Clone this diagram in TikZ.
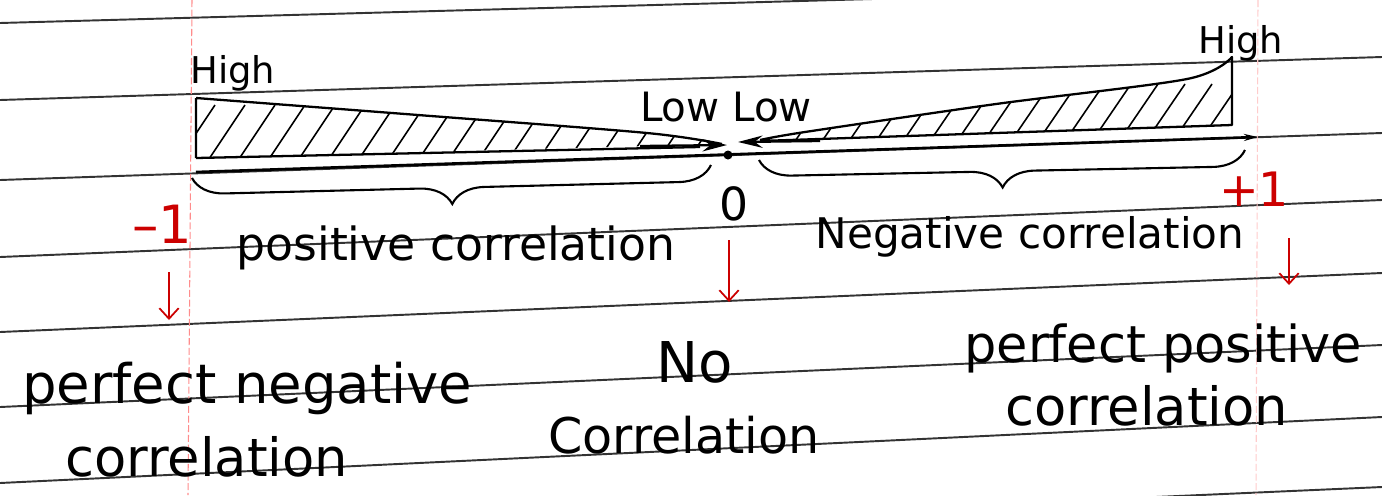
\documentclass[tikz,border=0pt]{standalone}
\usepackage{fontspec}
\setmainfont{DejaVu Sans}
\usetikzlibrary{arrows.meta, decorations.pathreplacing, calc}

\begin{document}
\begin{tikzpicture}[
    x=0.02cm, y=-0.02cm,
    ruled/.style={black!80, line width=1.1pt},
    margin/.style={red!45, line width=0.6pt, dash pattern=on 4pt off 1.5pt},
    wedge/.style={line width=1.3pt, line join=round},
    hatch/.style={line width=0.9pt},
    brace/.style={decorate, decoration={brace, mirror, amplitude=0.65cm}, line width=1.2pt},
    redarrow/.style={-{Straight Barb[length=6pt, width=11pt]}, red!80!black, line width=1pt},
    hand/.style={font=\fontsize{#1}{#1}\selectfont, inner sep=0pt},
    num/.style={font=\fontsize{#1}{#1}\selectfont, text=red!80!black, inner sep=0pt}
]
    % paper and its ruling
    \clip (0,0) rectangle (1382,495);
    \fill[white] (0,0) rectangle (1382,495);
    \foreach \l/\r in {23/-15, 100/57, 180/133, 257/200, 332/273, 407/345, 483/417, 548/487}
        \draw[ruled] (0,\l) -- (1382,\r);
    \draw[margin] (192,0) -- (188,495);
    \draw[margin, red!20] (1258,0) -- (1256,495);

    % left wedge (high at -1, low at 0)
    \begin{scope}
        \clip plot[smooth] coordinates {(196,98) (418,115) (647,133) (722,144)} -- (196,158) -- cycle;
        \foreach \x in {175,205,...,735}
            \draw[hatch] (\x,165) -- ++(40,-60);
    \end{scope}
    \draw[wedge] (196,158) -- (196,98) plot[smooth] coordinates {(196,98) (418,115) (647,133) (722,144)};
    \draw[wedge] (196,158) -- (700,147);
    \draw[wedge, -{Stealth[length=14pt, width=7pt]}] (640,146) -- (727,145);

    % right wedge (low at 0, high at +1)
    \begin{scope}
        \clip plot[smooth] coordinates {(742,142) (805,132) (996,104) (1187,79) (1232,57)} -- (1232,125) -- cycle;
        \foreach \x in {735,762,...,1240}
            \draw[hatch] (\x,150) -- ++(45,-66);
    \end{scope}
    \draw[wedge] plot[smooth] coordinates {(760,140) (805,132) (996,104) (1187,79) (1232,57)} -- (1232,125) -- (760,141);
    \draw[wedge, -{Stealth[length=14pt, width=7pt]}] (820,141) -- (738,142);

    % axis
    \coordinate (start) at (196,172);
    \coordinate (finish) at (1258,137);
    \coordinate (zero) at (728,155);
    \draw[line width=1.5pt, -{Stealth[length=8pt, width=4pt]}] (start) -- (finish);
    \fill (zero) circle (4.5);

    % braces
    \draw[brace] (192,178) -- (711,165);
    \draw[brace] (759,160) -- (1245,150);

    % labels
    \node[hand=21, anchor=base west] (highL) at (190,83) {High};
    \node[hand=21, anchor=base west] (highR) at (1198,53) {High};
    \node[hand=23, anchor=base] (low) at (726,121) {Low Low};
    \node[num=30] (m1) at (162,224) {--1};
    \node[num=26, text=black] (zerolab) at (734,204) {0};
    \node[num=27] (p1) at (1254,189) {+1};
    \node[hand=26, anchor=base] (poscorr) at (456,260) {positive correlation};
    \node[hand=24, anchor=base] (negcorr) at (1030,248) {Negative correlation};
    \node[hand=31, anchor=base west] (pneg) at (22,403) {perfect negative};
    \node[hand=30, anchor=base west] (pnegb) at (65,476) {correlation};
    \node[hand=32, anchor=base] (nocorr) at (695,382) {No};
    \node[hand=28, anchor=base] (nocorrb) at (684,453) {Correlation};
    \node[hand=29, anchor=base west] (ppos) at (964,362) {perfect positive};
    \node[hand=30, anchor=base west] (pposb) at (1005,425) {correlation};

    % red arrows
    \coordinate (a1) at (169,272);  \coordinate (b1) at (169,320);
    \coordinate (a2) at (729,240);  \coordinate (b2) at (729,302);
    \coordinate (a3) at (1289,238); \coordinate (b3) at (1289,285);
    \draw[redarrow] (a1) -- (b1);
    \draw[redarrow] (a2) -- (b2);
    \draw[redarrow] (a3) -- (b3);
\end{tikzpicture}
\end{document}
